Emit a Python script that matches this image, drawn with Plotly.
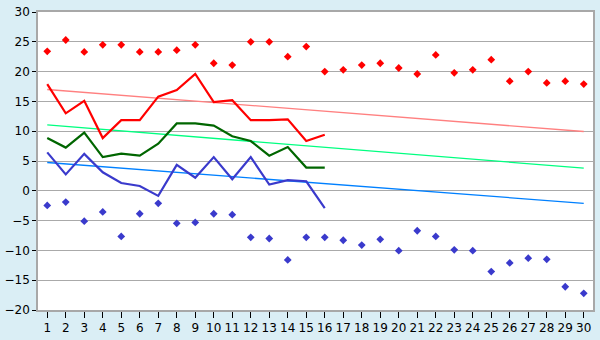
import plotly.graph_objects as go

days = list(range(1, 31))
max_pts = [23.4, 25.3, 23.3, 24.5, 24.5, 23.3, 23.3, 23.6, 24.5, 21.4,
           21.1, 25.0, 25.0, 22.5, 24.2, 20.0, 20.3, 21.1, 21.4, 20.6,
           19.6, 22.8, 19.8, 20.3, 22.0, 18.4, 20.0, 18.1, 18.4, 17.9]
min_pts = [-2.45, -1.9, -5.1, -3.55, -7.65, -3.85, -2.1, -5.45, -5.3, -3.85,
           -4.0, -7.8, -8.0, -11.6, -7.8, -7.8, -8.3, -9.1, -8.15, -10.05,
           -6.7, -7.65, -9.9, -10.05, -13.55, -12.1, -11.3, -11.5, -16.1, -17.2]
obs_days = list(range(1, 17))
max_line = [17.9, 13.0, 15.1, 8.85, 11.85, 11.85, 15.8, 16.9, 19.6, 14.9,
            15.2, 11.85, 11.85, 12.0, 8.35, 9.4]
mean_line = [8.85, 7.25, 9.75, 5.65, 6.25, 5.9, 7.9, 11.3, 11.3, 10.95,
             9.15, 8.35, 5.9, 7.35, 3.9, 3.9]
min_line = [6.45, 2.75, 6.2, 3.1, 1.3, 0.8, -0.85, 4.35, 2.2, 5.65,
            1.95, 5.65, 1.05, 1.8, 1.6, -2.9]
trend_days = [1, 30]
trend_max = [17.0, 9.95]
trend_mean = [11.05, 3.8]
trend_min = [4.75, -2.1]
y_ticks = [-20, -15, -10, -5, 0, 5, 10, 15, 20, 25, 30]

fig = go.Figure()
fig.add_trace(go.Scatter(x=trend_days, y=trend_max, mode="lines",
                         line=dict(color="#FF8080", width=1.3)))
fig.add_trace(go.Scatter(x=trend_days, y=trend_mean, mode="lines",
                         line=dict(color="#00FF80", width=1.3)))
fig.add_trace(go.Scatter(x=trend_days, y=trend_min, mode="lines",
                         line=dict(color="#0080FF", width=1.3)))
fig.add_trace(go.Scatter(x=obs_days, y=max_line, mode="lines",
                         line=dict(color="#FF0000", width=2.2)))
fig.add_trace(go.Scatter(x=obs_days, y=mean_line, mode="lines",
                         line=dict(color="#006600", width=2.2)))
fig.add_trace(go.Scatter(x=obs_days, y=min_line, mode="lines",
                         line=dict(color="#3A3ACC", width=2.2)))
fig.add_trace(go.Scatter(x=days, y=max_pts, mode="markers",
                         marker=dict(symbol="diamond", size=6, color="#FF0000")))
fig.add_trace(go.Scatter(x=days, y=min_pts, mode="markers",
                         marker=dict(symbol="diamond", size=6, color="#3A3ACC")))

fig.update_layout(
    width=600, height=340,
    margin=dict(l=26, r=5, t=5, b=20),
    paper_bgcolor="#DAEEF5",
    plot_bgcolor="#FFFFFF",
    showlegend=False,
    font=dict(family="DejaVu Sans", size=12, color="#000000"),
)
fig.update_xaxes(
    range=[0.5, 30.5], tickmode="array", tickvals=days,
    ticktext=[str(d) for d in days],
    ticks="outside", ticklen=6, tickcolor="#000000", tickwidth=1,
    showgrid=False, zeroline=False,
    showline=True, mirror=True, linecolor="#A8A8A8", linewidth=1.5,
    tickfont=dict(size=12),
)
fig.update_yaxes(
    range=[-20, 30], tickmode="array", tickvals=y_ticks,
    ticks="outside", ticklen=4, tickcolor="#000000", tickwidth=1,
    showgrid=True, gridcolor="#AAAAAA", gridwidth=1, zeroline=False,
    showline=True, mirror=True, linecolor="#A8A8A8", linewidth=1.5,
    tickfont=dict(size=12),
)
fig.write_html("out.html")
